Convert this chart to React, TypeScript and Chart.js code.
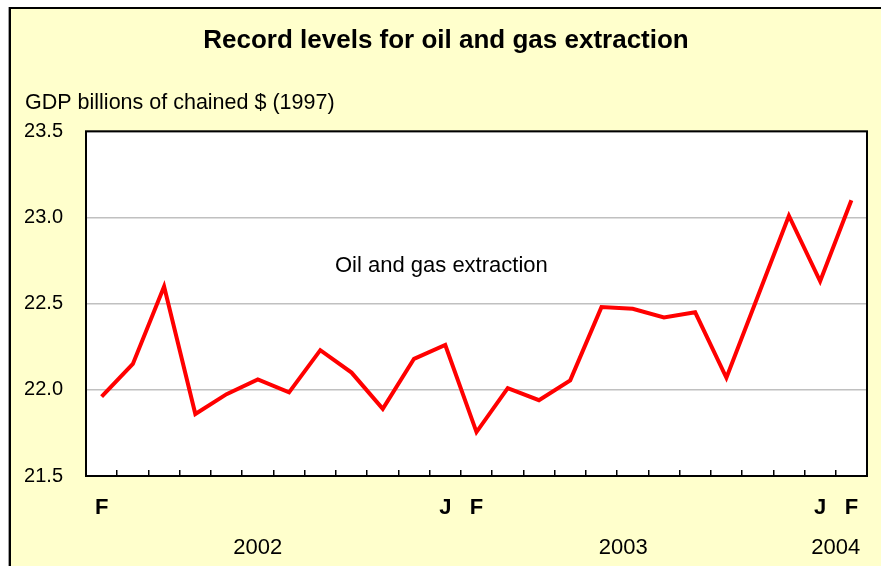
import { useEffect, useRef } from "react";
import { Chart, registerables } from "chart.js";

Chart.register(...registerables);

const MONTHS = [
  "Feb 2002", "Mar 2002", "Apr 2002", "May 2002", "Jun 2002", "Jul 2002",
  "Aug 2002", "Sep 2002", "Oct 2002", "Nov 2002", "Dec 2002",
  "Jan 2003", "Feb 2003", "Mar 2003", "Apr 2003", "May 2003", "Jun 2003",
  "Jul 2003", "Aug 2003", "Sep 2003", "Oct 2003", "Nov 2003", "Dec 2003",
  "Jan 2004", "Feb 2004",
];

const OIL_GAS = [
  21.96, 22.15, 22.6, 21.86, 21.975, 22.06, 21.985, 22.23, 22.1, 21.89, 22.18,
  22.26, 21.755, 22.01, 21.94, 22.055, 22.48, 22.47, 22.42, 22.45, 22.07,
  22.54, 23.01, 22.63, 23.1,
];

const MONTH_TICKS = [
  "F", "", "", "", "", "", "", "", "", "", "",
  "J", "F", "", "", "", "", "", "", "", "", "", "",
  "J", "F",
];

const YEARS = ["2002", "2003", "2004"];
const YEAR_AT = [5, 16.7, 23.5];

const TITLE = "Record levels for oil and gas extraction";
const Y_TITLE = "GDP billions of chained $ (1997)";
const SERIES_NAME = "Oil and gas extraction";
const SERIES_LABEL_AT = { index: 7.47, value: 22.72 };

const FONT = "'Liberation Sans', Arial, sans-serif";

const decorPlugin = {
  id: "decor",
  beforeDraw(chart: any) {
    const { ctx, width, height, chartArea } = chart;
    ctx.save();
    ctx.fillStyle = "#FFFFFF";
    ctx.fillRect(0, 0, width, height);
    ctx.fillStyle = "#FFFFCC";
    ctx.fillRect(10, 9, width - 10, height - 9);
    ctx.fillStyle = "#A0A0A0";
    ctx.fillRect(8, 7, 1, height - 7);
    ctx.fillStyle = "#000000";
    ctx.fillRect(9, 7, 2, height - 7);
    ctx.fillRect(9, 7, width - 9, 2);
    ctx.fillStyle = "#FFFFFF";
    ctx.fillRect(
      chartArea.left,
      chartArea.top,
      chartArea.right - chartArea.left,
      chartArea.bottom - chartArea.top
    );
    ctx.restore();
  },
  afterDraw(chart: any) {
    const { ctx, chartArea, scales } = chart;
    const x = scales.x;
    const y = scales.y;
    ctx.save();
    ctx.strokeStyle = "#000000";
    ctx.lineWidth = 2;
    ctx.strokeRect(
      chartArea.left,
      chartArea.top,
      chartArea.right - chartArea.left,
      chartArea.bottom - chartArea.top
    );
    ctx.fillStyle = "#000000";
    ctx.font = `22px ${FONT}`;
    ctx.textBaseline = "middle";
    ctx.textAlign = "left";
    ctx.fillText(
      SERIES_NAME,
      x.getPixelForValue(SERIES_LABEL_AT.index),
      y.getPixelForValue(SERIES_LABEL_AT.value)
    );
    ctx.textAlign = "center";
    YEARS.forEach((yr, i) => {
      ctx.fillText(yr, x.getPixelForValue(YEAR_AT[i]), chartArea.bottom + 72);
    });
    ctx.restore();
  },
};

export default function App() {
  const ref = useRef<HTMLCanvasElement | null>(null);

  useEffect(() => {
    document.body.style.margin = "0";
    const canvas = ref.current;
    if (!canvas) return;
    const chart = new Chart(canvas, {
      type: "line",
      data: {
        labels: MONTHS,
        datasets: [
          {
            label: SERIES_NAME,
            data: OIL_GAS,
            borderColor: "#FF0000",
            backgroundColor: "#FF0000",
            borderWidth: 4,
            pointRadius: 0,
            pointHoverRadius: 0,
            tension: 0,
            fill: false,
            borderJoinStyle: "miter",
          },
        ],
      },
      options: {
        responsive: false,
        animation: false,
        events: [],
        layout: { padding: { left: 25, right: 14, top: 0, bottom: 0 } },
        plugins: {
          legend: { display: false },
          tooltip: { enabled: false },
          title: {
            display: true,
            text: TITLE,
            color: "#000000",
            font: { family: FONT, size: 26, weight: "bold" },
            padding: { top: 25, bottom: 20 },
          },
          subtitle: {
            display: true,
            text: Y_TITLE,
            align: "start",
            color: "#000000",
            font: { family: FONT, size: 21.5, weight: "normal" },
            padding: { top: 14, bottom: 15.3 },
          },
        },
        scales: {
          x: {
            type: "category",
            offset: true,
            grid: {
              display: true,
              offset: true,
              drawOnChartArea: false,
              drawTicks: true,
              tickLength: -6,
              color: "#000000",
              lineWidth: 1.5,
            },
            border: { display: false },
            ticks: {
              autoSkip: false,
              maxRotation: 0,
              minRotation: 0,
              padding: 25,
              color: "#000000",
              font: { family: FONT, size: 22, weight: "bold" },
              callback: (_v: any, i: number) => MONTH_TICKS[i],
            },
            afterFit: (s: any) => {
              s.height = 90;
              s.paddingLeft = 0;
              s.paddingRight = 0;
            },
          },
          y: {
            type: "linear",
            min: 21.5,
            max: 23.5,
            grid: {
              color: "#C0C0C0",
              lineWidth: 1.5,
              drawTicks: false,
            },
            border: { display: false },
            ticks: {
              stepSize: 0.5,
              padding: 23,
              color: "#000000",
              font: { family: FONT, size: 20 },
              callback: (v: any) => Number(v).toFixed(1),
            },
            afterFit: (s: any) => {
              s.width = 61;
            },
          },
        },
      },
      plugins: [decorPlugin],
    });
    return () => chart.destroy();
  }, []);

  return (
    <canvas
      ref={ref}
      width={881}
      height={566}
      style={{ display: "block", width: 881, height: 566 }}
    />
  );
}
